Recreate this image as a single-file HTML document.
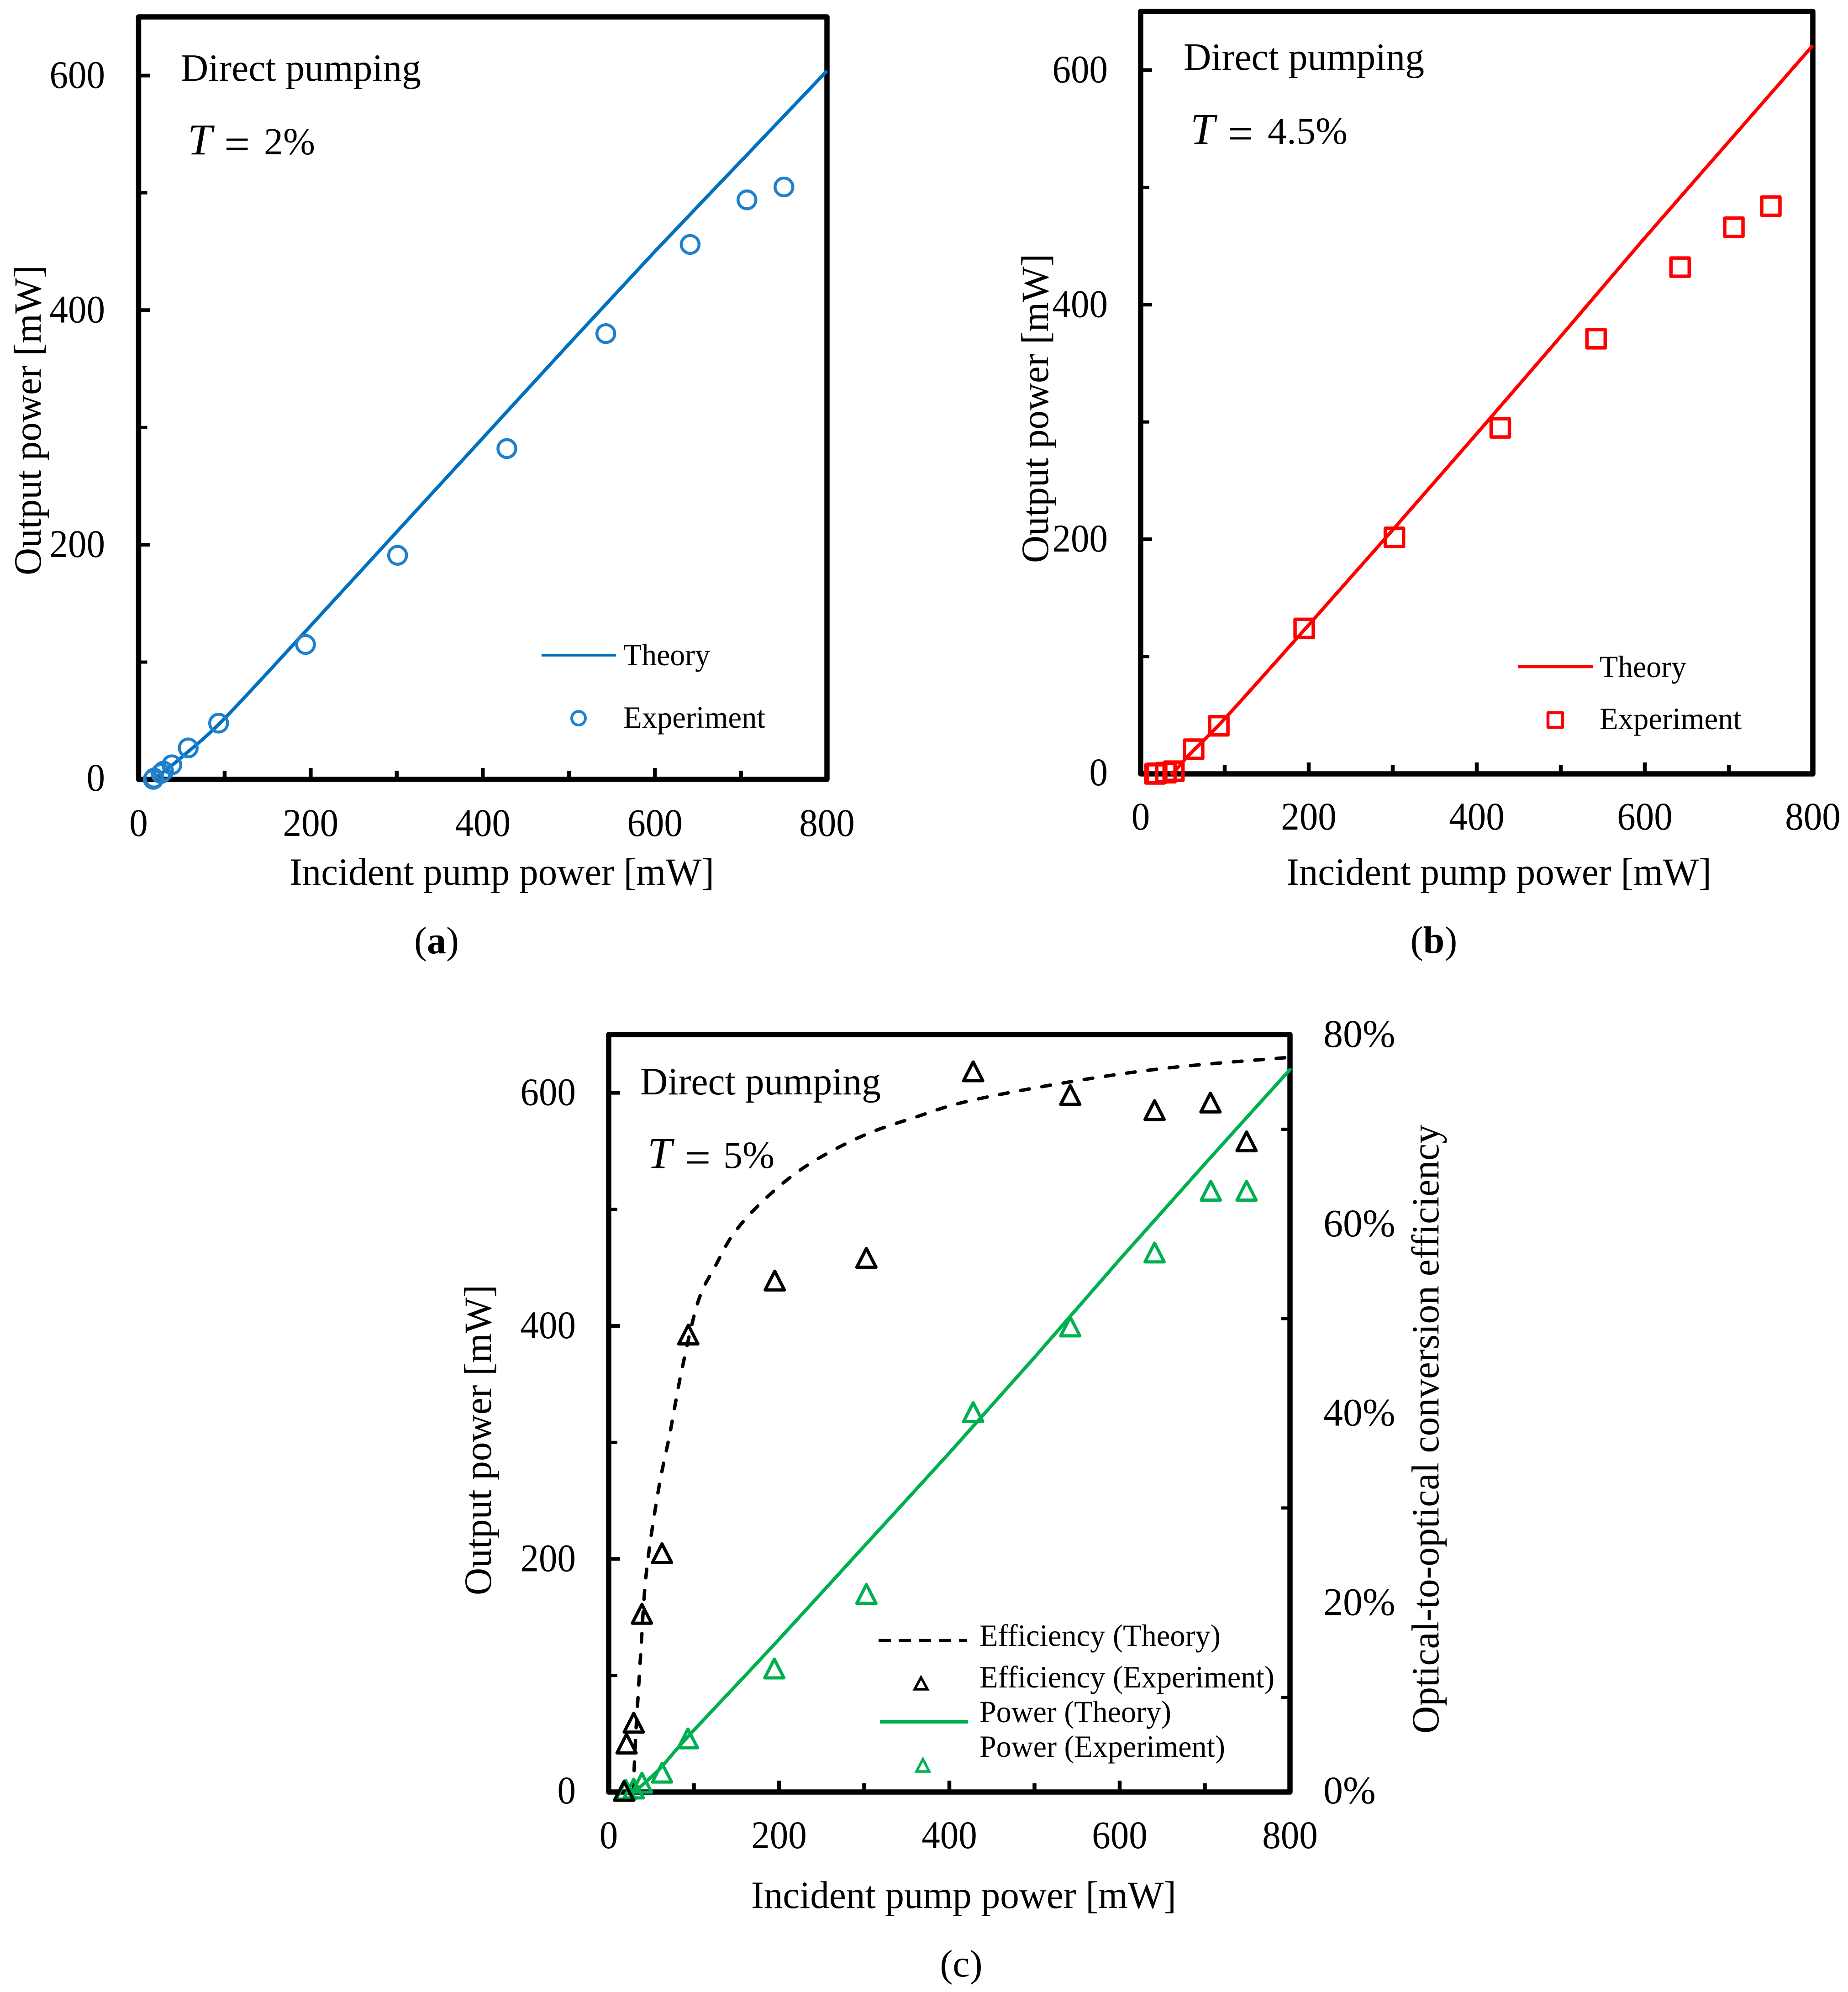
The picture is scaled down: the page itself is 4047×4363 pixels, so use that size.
<!DOCTYPE html>
<html lang="en">
<head>
<meta charset="utf-8">
<title>Output power versus incident pump power, direct pumping</title>
<style>
html,body{margin:0;padding:0;background:#fff;}
svg{display:block;}
text{font-family:"Liberation Serif","Times New Roman",serif;fill:#000;}
</style>
</head>
<body>
<svg id="figure" xmlns="http://www.w3.org/2000/svg" width="4047" height="4363" viewBox="0 0 4047 4363">
  <rect x="0" y="0" width="4047" height="4363" fill="#fff"/>

  <g id="panel-a">
    <rect x="303.5" y="37" width="1507.5" height="1670" fill="none" stroke="#000" stroke-width="11.5" stroke-linejoin="round"/>
    <text x="396" y="177" font-size="85" textLength="526" lengthAdjust="spacingAndGlyphs">Direct pumping</text>
    <text y="338" font-size="84"><tspan x="411" font-style="italic" font-size="96">T</tspan><tspan x="491" font-size="100" dy="11">=</tspan><tspan x="578" dy="-11">2%</tspan></text>
    <text x="634" y="1938" font-size="85" textLength="930" lengthAdjust="spacingAndGlyphs">Incident pump power [mW]</text>
    <text transform="translate(89 1260) rotate(-90)" font-size="85" textLength="679" lengthAdjust="spacingAndGlyphs">Output power [mW]</text>
    <text x="956" y="2088" font-size="84" text-anchor="middle">(<tspan font-weight="bold">a</tspan>)</text>
    <line x1="1186" y1="1435" x2="1349" y2="1435" stroke="#0070c0" stroke-width="6"/>
    <text x="1365" y="1457" font-size="68" textLength="190" lengthAdjust="spacingAndGlyphs">Theory</text>
    <circle cx="1267" cy="1573" r="15" fill="none" stroke="#2080cc" stroke-width="6"/>
    <text x="1365" y="1594" font-size="68" textLength="311" lengthAdjust="spacingAndGlyphs">Experiment</text>
  </g>

  <g id="panel-b">
    <rect x="2498" y="25" width="1472" height="1670" fill="none" stroke="#000" stroke-width="11.5" stroke-linejoin="round"/>
    <text x="2592" y="153" font-size="85" textLength="527" lengthAdjust="spacingAndGlyphs">Direct pumping</text>
    <text y="315" font-size="84"><tspan x="2607" font-style="italic" font-size="96">T</tspan><tspan x="2688" font-size="100" dy="11">=</tspan><tspan x="2776" dy="-11">4.5%</tspan></text>
    <text x="2817" y="1938" font-size="85" textLength="931" lengthAdjust="spacingAndGlyphs">Incident pump power [mW]</text>
    <text transform="translate(2295 1233) rotate(-90)" font-size="85" textLength="677" lengthAdjust="spacingAndGlyphs">Output power [mW]</text>
    <text x="3140" y="2087" font-size="84" text-anchor="middle">(<tspan font-weight="bold">b</tspan>)</text>
    <line x1="3324" y1="1460" x2="3488" y2="1460" stroke="#ff0000" stroke-width="7"/>
    <text x="3503" y="1483" font-size="68" textLength="190" lengthAdjust="spacingAndGlyphs">Theory</text>
    <rect x="3390" y="1561" width="32" height="32" fill="none" stroke="#ff0000" stroke-width="6.5" stroke-linejoin="round"/>
    <text x="3503" y="1597" font-size="68" textLength="311" lengthAdjust="spacingAndGlyphs">Experiment</text>
  </g>

  <g id="panel-c">
    <rect x="1333" y="2266" width="1492" height="1659" fill="none" stroke="#000" stroke-width="11.5" stroke-linejoin="round"/>
    <text x="1402" y="2397" font-size="85" textLength="527" lengthAdjust="spacingAndGlyphs">Direct pumping</text>
    <text y="2558" font-size="84"><tspan x="1418" font-style="italic" font-size="96">T</tspan><tspan x="1500" font-size="100" dy="11">=</tspan><tspan x="1584" dy="-11">5%</tspan></text>
    <text x="1645" y="4179" font-size="85" textLength="931" lengthAdjust="spacingAndGlyphs">Incident pump power [mW]</text>
    <text transform="translate(1075 3494) rotate(-90)" font-size="85" textLength="680" lengthAdjust="spacingAndGlyphs">Output power [mW]</text>
    <text transform="translate(3150 3797) rotate(-90)" font-size="85" textLength="1334" lengthAdjust="spacingAndGlyphs">Optical-to-optical conversion efficiency</text>
    <text x="2105" y="4329" font-size="84" text-anchor="middle">(c)</text>
    <line x1="1924" y1="3593" x2="2118" y2="3593" stroke="#000" stroke-width="6.5" stroke-dasharray="27 17"/>
    <text x="2145" y="3605" font-size="68" textLength="528" lengthAdjust="spacingAndGlyphs">Efficiency (Theory)</text>
    <path d="M2017 3674 L2031 3700 L2003 3700 Z" fill="none" stroke="#000" stroke-width="5.5" stroke-linejoin="miter"/>
    <text x="2145" y="3696" font-size="68" textLength="646" lengthAdjust="spacingAndGlyphs">Efficiency (Experiment)</text>
    <line x1="1927" y1="3771" x2="2120" y2="3771" stroke="#00b050" stroke-width="8"/>
    <text x="2145" y="3772" font-size="68" textLength="420" lengthAdjust="spacingAndGlyphs">Power (Theory)</text>
    <path d="M2021 3853 L2035 3880 L2007 3880 Z" fill="none" stroke="#00b050" stroke-width="5.5" stroke-linejoin="miter"/>
    <text x="2145" y="3848" font-size="68" textLength="538" lengthAdjust="spacingAndGlyphs">Power (Experiment)</text>
  </g>
</svg>

<script>
/* ---------- shared axis labels and tick values ---------- */
const xTickValues = [0, 200, 400, 600, 800];
const xMinorTickValues = [100, 300, 500, 700];
const yTickValues = [0, 200, 400, 600];
const yMinorTickValues = [100, 300, 500];
const rightTickValues = [0, 20, 40, 60, 80];
const rightMinorTickValues = [10, 30, 50, 70];

/* ---------- panel (a) T = 2% ---------- */
const aExperimentX = [17, 18, 26, 29, 38.6, 57.7, 93, 194, 301, 428, 543, 641, 707, 750];
const aExperimentY = [0, 1, 5, 7, 12.4, 26.8, 47.9, 115, 191, 282, 380, 456, 494, 505];
const aTheoryX = [17, 30, 51, 100, 200, 300, 400, 500, 600, 700, 800];
const aTheoryY = [0, 7, 19.5, 52, 131, 211, 291, 371, 450, 527, 604];

/* ---------- panel (b) T = 4.5% ---------- */
const bExperimentX = [17, 19, 30, 39.5, 63, 93, 194.6, 302, 428, 542, 642, 706, 750];
const bExperimentY = [0, 0.5, 1, 2.3, 21, 41, 124, 201.6, 295, 371, 432, 466, 484];
const bTheoryX = [35, 40, 60, 100, 200, 300, 400, 500, 600, 700, 800];
const bTheoryY = [0, 2, 18, 47, 127, 208, 290, 373, 457, 539, 621];

/* ---------- panel (c) T = 5% ---------- */
const cPowerExperimentX = [20, 29.4, 39, 62.6, 93, 194.5, 302.6, 428, 542, 641, 707, 749];
const cPowerExperimentY = [1, 2, 7, 15.6, 45, 105, 169, 325, 398.5, 462, 515, 515];
const cPowerTheoryX = [30, 37.6, 60, 79, 100, 200, 300, 400, 500, 600, 700, 800];
const cPowerTheoryY = [0, 4.7, 20, 36, 53, 131, 211, 291, 373, 457, 539, 620];
const cEfficiencyExperimentX = [18, 21, 29.4, 39, 62.6, 93.5, 195, 302.6, 428, 542, 641, 706.6, 749];
const cEfficiencyExperimentY = [0, 5, 7.2, 18.7, 25.1, 48.2, 53.9, 56.3, 76, 73.5, 71.9, 72.7, 68.6];
const cEfficiencyTheoryX = [29, 29.5, 31.8, 34.4, 37.6, 44, 58, 71.5, 85.7, 105, 125, 148.5, 188, 235, 298, 361, 423.6, 541, 659, 800];
const cEfficiencyTheoryY = [0, 1.5, 6.1, 10, 14.6, 23, 31.7, 37.7, 44.5, 51.8, 55.5, 59.2, 63, 66.3, 69.3, 71.3, 73, 75, 76.5, 77.6];

const SVG_NS = 'http://www.w3.org/2000/svg';
const DIGIT_WIDTH = 40.5;

function makeAxis(domainMax, pixelStart, pixelEnd) {
  return function (value) {
    return pixelStart + (value / domainMax) * (pixelEnd - pixelStart);
  };
}

function addShape(parent, tag, name, attrs) {
  const el = document.createElementNS(SVG_NS, tag);
  for (const key in attrs) {
    el.setAttribute(key, attrs[key]);
  }
  
  
  parent.appendChild(el);
  return el;
}

function addLabel(parent, name, text, x, y, anchor) {
  const el = addShape(parent, 'text', name, { x: x, y: y, 'font-size': 86, 'text-anchor': anchor });
  el.textContent = text;
  return el;
}

function addDigitLabel(parent, name, text, x, y, anchor) {
  const el = addLabel(parent, name, text, x, y, anchor);
  el.setAttribute('textLength', text.length * DIGIT_WIDTH);
  el.setAttribute('lengthAdjust', 'spacingAndGlyphs');
  return el;
}

function drawTicks(parent, prefix, xAxis, yAxis, opts) {
  const bottom = yAxis(0);
  const left = xAxis(0);
  xTickValues.forEach(function (v) {
    if (v !== 0 && v !== 800) {
      addShape(parent, 'line', prefix + '-x-major-tick', { x1: xAxis(v), x2: xAxis(v), y1: bottom, y2: bottom - 25, stroke: '#000', 'stroke-width': 8.5 });
    }
    addDigitLabel(parent, prefix + '-x-tick-label', String(v), xAxis(v), opts.xLabelY, 'middle');
  });
  xMinorTickValues.forEach(function (v) {
    addShape(parent, 'line', prefix + '-x-minor-tick', { x1: xAxis(v), x2: xAxis(v), y1: bottom, y2: bottom - 19, stroke: '#000', 'stroke-width': 8.5 });
  });
  yTickValues.forEach(function (v) {
    if (v !== 0) {
      addShape(parent, 'line', prefix + '-y-major-tick', { x1: left, x2: left + 25, y1: yAxis(v), y2: yAxis(v), stroke: '#000', 'stroke-width': 8 });
    }
    addDigitLabel(parent, prefix + '-y-tick-label', String(v), opts.yLabelX, yAxis(v) + (v === 0 ? 25 : 27), 'end');
  });
  yMinorTickValues.forEach(function (v) {
    addShape(parent, 'line', prefix + '-y-minor-tick', { x1: left, x2: left + 19, y1: yAxis(v), y2: yAxis(v), stroke: '#000', 'stroke-width': 7 });
  });
}

/* Smooth curve (Catmull-Rom) through the data points, mapped by the axis functions */
function smoothPath(xs, ys, xAxis, yAxis) {
  const px = xs.map(function (x) { return xAxis(x); });
  const py = ys.map(function (y) { return yAxis(y); });
  let d = 'M' + px[0].toFixed(1) + ' ' + py[0].toFixed(1);
  for (let i = 0; i < px.length - 1; i++) {
    const p0 = Math.max(i - 1, 0);
    const p3 = Math.min(i + 2, px.length - 1);
    const c1x = px[i] + (px[i + 1] - px[p0]) / 6;
    const c1y = py[i] + (py[i + 1] - py[p0]) / 6;
    const c2x = px[i + 1] - (px[p3] - px[i]) / 6;
    const c2y = py[i + 1] - (py[p3] - py[i]) / 6;
    d += ' C' + c1x.toFixed(1) + ' ' + c1y.toFixed(1) + ' ' + c2x.toFixed(1) + ' ' + c2y.toFixed(1) + ' ' + px[i + 1].toFixed(1) + ' ' + py[i + 1].toFixed(1);
  }
  return d;
}

function drawLine(parent, name, xs, ys, xAxis, yAxis, stroke, extra) {
  const attrs = { d: smoothPath(xs, ys, xAxis, yAxis), fill: 'none', stroke: stroke, 'stroke-width': 7.5, 'stroke-linejoin': 'round' };
  for (const key in extra) {
    attrs[key] = extra[key];
  }
  addShape(parent, 'path', name, attrs);
}

function drawCircles(parent, name, xs, ys, xAxis, yAxis, stroke) {
  xs.forEach(function (x, i) {
    addShape(parent, 'circle', name, { cx: xAxis(x), cy: yAxis(ys[i]), r: 19.5, fill: 'none', stroke: stroke, 'stroke-width': 6.5 });
  });
}

function drawSquares(parent, name, xs, ys, xAxis, yAxis, stroke) {
  xs.forEach(function (x, i) {
    addShape(parent, 'rect', name, { x: xAxis(x) - 20, y: yAxis(ys[i]) - 20, width: 40, height: 40, fill: 'none', stroke: stroke, 'stroke-width': 7.5, 'stroke-linejoin': 'round' });
  });
}

function drawTriangles(parent, name, xs, ys, xAxis, yAxis, stroke) {
  xs.forEach(function (x, i) {
    const cx = xAxis(x);
    const cy = yAxis(ys[i]);
    const d = 'M' + cx + ' ' + (cy - 23) + ' L' + (cx + 21) + ' ' + (cy + 18) + ' L' + (cx - 21) + ' ' + (cy + 18) + ' Z';
    addShape(parent, 'path', name, { d: d, fill: 'none', stroke: stroke, 'stroke-width': 7, 'stroke-linejoin': 'round' });
  });
}

/* panel a */
const aGroup = document.getElementById('panel-a');
const aX = makeAxis(800, 303.5, 1811);
const aY = makeAxis(650, 1707, 37);
drawTicks(aGroup, 'panel-a', aX, aY, { xLabelY: 1831, yLabelX: 230 });
drawLine(aGroup, 'theory-line-a', aTheoryX, aTheoryY, aX, aY, '#0070c0');
drawCircles(aGroup, 'experiment-point-a', aExperimentX, aExperimentY, aX, aY, '#2080cc');

/* panel b */
const bGroup = document.getElementById('panel-b');
const bX = makeAxis(800, 2498, 3970);
const bY = makeAxis(650, 1695, 25);
drawTicks(bGroup, 'panel-b', bX, bY, { xLabelY: 1817, yLabelX: 2426 });
drawLine(bGroup, 'theory-line-b', bTheoryX, bTheoryY, bX, bY, '#ff0000');
drawSquares(bGroup, 'experiment-point-b', bExperimentX, bExperimentY, bX, bY, '#ff0000');

/* panel c */
const cGroup = document.getElementById('panel-c');
const cX = makeAxis(800, 1333, 2825);
const cY = makeAxis(650, 3925, 2266);
const cRightY = makeAxis(80, 3925, 2266);
drawTicks(cGroup, 'panel-c', cX, cY, { xLabelY: 4048, yLabelX: 1261 });
rightMinorTickValues.forEach(function (v) {
  addShape(cGroup, 'line', 'panel-c-right-minor-tick', { x1: 2825, x2: 2806, y1: cRightY(v), y2: cRightY(v), stroke: '#000', 'stroke-width': 7 });
});
rightTickValues.forEach(function (v) {
  addLabel(cGroup, 'panel-c-right-tick-label', v + '%', 2898, cRightY(v) + (v === 0 ? 25 : 27), 'start');
});
drawLine(cGroup, 'efficiency-theory-line', cEfficiencyTheoryX, cEfficiencyTheoryY, cX, cRightY, '#000', { 'stroke-dasharray': '19 28', 'stroke-linecap': 'round' });
drawLine(cGroup, 'power-theory-line', cPowerTheoryX, cPowerTheoryY, cX, cY, '#00b050', { 'stroke-linecap': 'round' });
drawTriangles(cGroup, 'power-experiment-point', cPowerExperimentX, cPowerExperimentY, cX, cY, '#00b050');
drawTriangles(cGroup, 'efficiency-experiment-point', cEfficiencyExperimentX, cEfficiencyExperimentY, cX, cRightY, '#000');
</script>
</body>
</html>
